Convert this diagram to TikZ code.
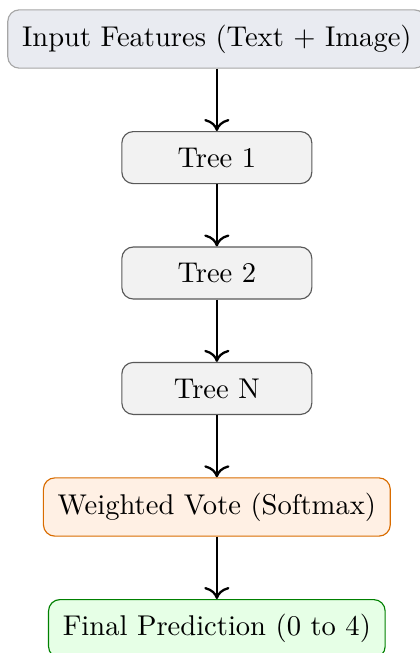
\documentclass[tikz,border=0pt]{standalone}
\usepackage{tikz}
\usetikzlibrary{positioning,arrows.meta}
\definecolor{featfill}{RGB}{233,235,241}
\definecolor{votefill}{RGB}{255,240,228}
\definecolor{predfill}{RGB}{230,255,230}
\begin{document}
\begin{tikzpicture}[
			box/.style={draw,rounded corners=4pt,inner xsep=5pt,inner ysep=5.2pt,minimum height=18.2pt},
			feat/.style={box,draw=gray!70,fill=featfill},
			tree/.style={box,draw=black!65,fill=gray!10,minimum width=66.5pt},
			vote/.style={box,draw=orange!85!black,fill=votefill},
			pred/.style={box,draw=green!50!black,fill=predfill},
			flow/.style={-{To[scale=1.25]},thick},
			node distance=21.8pt]
			\useasboundingbox (-75.9pt,13.65pt) rectangle (71pt,-214.9pt);
			\node [feat]	(feat)		at (0,0)				{Input Features (Text + Image)};
			\node [tree]	(tree1)		[below=of feat]		{Tree 1};
			\node [tree]	(tree2)		[below=of tree1]		{Tree 2};
			\node [tree]	(treeN)		[below=of tree2]		{Tree N};
			\node [vote]	(vote)		[below=of treeN]		{Weighted Vote (Softmax)};
			\node [pred]	(pred)		[below=of vote]		{Final Prediction (0 to 4)};
			\draw [flow] (feat) -- (tree1);
			\draw [flow] (tree1) -- (tree2);
			\draw [flow] (tree2) -- (treeN);
			\draw [flow] (treeN) -- (vote);
			\draw [flow] (vote) -- (pred);
		\end{tikzpicture}
\end{document}
